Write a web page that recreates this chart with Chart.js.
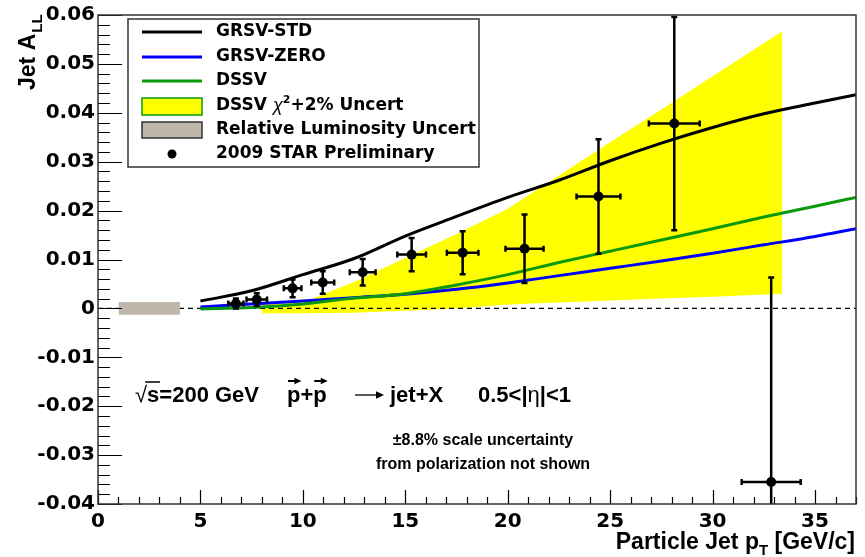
<!DOCTYPE html>
<html>
<head>
<meta charset="utf-8">
<script src="https://cdn.jsdelivr.net/npm/chart.js@4"></script>
<style>
  html, body { margin: 0; padding: 0; background: #fff; }
  #chartAll { display: block; }
</style>
</head>
<body>
<canvas id="chartAll" width="865" height="557"></canvas>
<script>
/* ------------------------------------------------------------
   Дані
------------------------------------------------------------ */

// теоретичні криві
const curveX   = [5, 7.5, 10, 12.5, 15, 17.5, 20, 22.5, 25, 27.5, 30, 32.5, 35, 37];
const grsvStd  = [0.0015, 0.0036, 0.0069, 0.0102, 0.0148, 0.0188, 0.0227, 0.0262, 0.0302, 0.0338, 0.0370, 0.0398, 0.0420, 0.0437];
const grsvZero = [0.0003, 0.0009, 0.0015, 0.0022, 0.0029, 0.0039, 0.0052, 0.0067, 0.0082, 0.0097, 0.0113, 0.0130, 0.0147, 0.0163];
const dssv     = [-0.0001, 0.0002, 0.0009, 0.0021, 0.0030, 0.0048, 0.0069, 0.0094, 0.0117, 0.0140, 0.0163, 0.0187, 0.0209, 0.0227];

// жовта смуга DSSV chi2 + 2%
const bandX  = [8, 10, 12.5, 15, 17.5, 20, 22.5, 25, 27.5, 30, 33.4];
const bandLo = [-0.0010, -0.0010, -0.0009, -0.0005, 0.0000, 0.0008, 0.0012, 0.0016, 0.0020, 0.0024, 0.0030];
const bandHi = [0.0008, 0.0012, 0.0054, 0.0103, 0.0152, 0.0204, 0.0272, 0.0340, 0.0407, 0.0475, 0.0567];

// сірий прямокутник (Relative Luminosity)
const lumX  = [1, 4];
const lumLo = [-0.0013, -0.0013];
const lumHi = [0.0013, 0.0013];

// пунктир на нулі
const zeroX = [0, 37];
const zeroY = [0, 0];

// точки 2009 STAR Preliminary
const ptX    = [6.73, 7.75, 9.5, 10.97, 12.92, 15.31, 17.8, 20.82, 24.43, 28.13, 32.86];
const ptY    = [0.0010, 0.0018, 0.0041, 0.0053, 0.0074, 0.0110, 0.0114, 0.0122, 0.0229, 0.0378, -0.0355];
const ptXErr = [0.37, 0.5, 0.43, 0.56, 0.63, 0.7, 0.77, 0.93, 1.07, 1.24, 1.44];
const ptYErr = [0.0010, 0.0013, 0.0018, 0.0023, 0.0027, 0.0034, 0.0044, 0.0070, 0.0117, 0.0218, 0.0418];

// осі
const xMin = 0, xMax = 37, xStep = 1, xMajor = 5;
const yMin = -0.04, yMax = 0.06, yStep = 0.002;

const legendLabels = ["GRSV-STD", "GRSV-ZERO", "DSSV", "DSSV χ²+2% Uncert", "Relative Luminosity Uncert", "2009 STAR Preliminary"];

const SANS = '"Liberation Sans", Arial, sans-serif';
const DEJA = '"DejaVu Sans", sans-serif';

const C_BLACK = "#000000";
const C_BLUE  = "#0000ff";
const C_GREEN = "#0b990b";
const C_YEL   = "#ffff00";
const C_LUM   = "#bfb6ab";

const xy = (xs, ys) => xs.map((x, i) => ({ x: x, y: ys[i] }));

/* ------------------------------------------------------------
   Плагін: похибки точок
------------------------------------------------------------ */
const errorBars = {
    id: "errorBars",
    beforeDatasetDraw(chart, args) {
        if (args.index !== 0) return;
        const { ctx, chartArea: a, scales: { x, y } } = chart;
        const cap = 3;
        ctx.save();
        ctx.strokeStyle = "#000";
        ctx.lineWidth = 2.5;
        ptX.forEach((vx, i) => {
            const px = x.getPixelForValue(vx);
            const py = y.getPixelForValue(ptY[i]);
            const x1 = x.getPixelForValue(vx - ptXErr[i]);
            const x2 = x.getPixelForValue(vx + ptXErr[i]);
            let yTop = y.getPixelForValue(ptY[i] + ptYErr[i]);
            let yBot = y.getPixelForValue(ptY[i] - ptYErr[i]);
            const topClip = yTop < a.top, botClip = yBot > a.bottom;
            yTop = Math.max(yTop, a.top);
            yBot = Math.min(yBot, a.bottom);
            ctx.beginPath();
            ctx.moveTo(x1, py); ctx.lineTo(x2, py);
            ctx.moveTo(px, yTop); ctx.lineTo(px, yBot);
            ctx.moveTo(x1, py - cap); ctx.lineTo(x1, py + cap);
            ctx.moveTo(x2, py - cap); ctx.lineTo(x2, py + cap);
            if (!topClip) { ctx.moveTo(px - cap, yTop); ctx.lineTo(px + cap, yTop); }
            if (!botClip) { ctx.moveTo(px - cap, yBot); ctx.lineTo(px + cap, yBot); }
            ctx.stroke();
        });
        ctx.restore();
    }
};

/* ------------------------------------------------------------
   Плагін: рамка, тики всередину (як у ROOT), підписи, легенда
------------------------------------------------------------ */
function drawRuns(ctx, x, y, runs) {
    runs.forEach(r => {
        ctx.font = r.font;
        const w = ctx.measureText(r.text).width;
        ctx.fillText(r.text, x, y + (r.dy || 0));
        if (r.deco) r.deco(ctx, x, y, w);
        x += w + (r.gap || 0);
    });
    return x;
}

// стрілка: від x1 до x2 на висоті y
function arrowLine(ctx, x1, x2, y, lw, head) {
    ctx.save();
    ctx.lineWidth = lw;
    ctx.beginPath();
    ctx.moveTo(x1, y); ctx.lineTo(x2 - head, y);
    ctx.stroke();
    ctx.beginPath();
    ctx.moveTo(x2, y);
    ctx.lineTo(x2 - head - 1, y - head * 0.55);
    ctx.lineTo(x2 - head - 1, y + head * 0.55);
    ctx.closePath();
    ctx.fill();
    ctx.restore();
}

function arrowOver(ctx, x, y, w) {
    arrowLine(ctx, x + 1, x + w + 1, y - 21, 2, 6);
}

const frameAndText = {
    id: "frameAndText",
    afterDraw(chart) {
        const { ctx, chartArea: a, scales: { x, y } } = chart;
        ctx.save();

        // тики
        ctx.strokeStyle = "#000";
        ctx.lineWidth = 1.2;
        ctx.beginPath();
        x.ticks.forEach(t => {
            const px = Math.round(x.getPixelForValue(t.value)) + 0.5;
            const len = t.label ? 14 : 7;
            ctx.moveTo(px, a.bottom); ctx.lineTo(px, a.bottom - len);
        });
        y.ticks.forEach(t => {
            const py = Math.round(y.getPixelForValue(t.value)) + 0.5;
            const len = t.label ? 24 : 12;
            ctx.moveTo(a.left, py); ctx.lineTo(a.left + len, py);
        });
        ctx.stroke();

        // рамка
        ctx.strokeStyle = "#333";
        ctx.lineWidth = 1.5;
        ctx.strokeRect(a.left, a.top, a.right - a.left, a.bottom - a.top);

        ctx.fillStyle = "#000";
        ctx.strokeStyle = "#000";
        ctx.textAlign = "left";
        ctx.textBaseline = "alphabetic";

        // назва осі Y: Jet A_LL
        ctx.save();
        ctx.translate(35, 90);
        ctx.rotate(-Math.PI / 2);
        drawRuns(ctx, 0, 0, [
            { text: "Jet A", font: "bold 23px " + SANS, gap: 1 },
            { text: "LL", font: "bold 15px " + SANS, dy: 7 }
        ]);
        ctx.restore();

        // назва осі X: Particle Jet p_T [GeV/c]
        ctx.font = "bold 23px " + SANS;
        const wA = ctx.measureText("Particle Jet p").width;
        const wC = ctx.measureText(" [GeV/c]").width;
        ctx.font = "bold 15px " + SANS;
        const wB = ctx.measureText("T").width;
        drawRuns(ctx, 855 - wA - wB - wC, 549, [
            { text: "Particle Jet p", font: "bold 23px " + SANS },
            { text: "T", font: "bold 15px " + SANS, dy: 6 },
            { text: " [GeV/c]", font: "bold 23px " + SANS }
        ]);

        // анотація
        const F = "bold 22px " + SANS;
        drawRuns(ctx, 135, 402, [
            { text: "√", font: "22px " + SANS },
            { text: "s=200 GeV", font: F, deco: (c, x0, y0) => {
                c.save(); c.lineWidth = 1.5; c.beginPath();
                c.moveTo(x0 - 2, y0 - 20); c.lineTo(x0 + 13, y0 - 20); c.stroke(); c.restore();
            } }
        ]);
        drawRuns(ctx, 287, 402, [
            { text: "p", font: F, deco: arrowOver },
            { text: "+", font: F },
            { text: "p", font: F, deco: arrowOver }
        ]);
        arrowLine(ctx, 355, 384, 395, 1.3, 7);
        drawRuns(ctx, 390, 402, [{ text: "jet+X", font: F }]);
        drawRuns(ctx, 478, 402, [
            { text: "0.5<|", font: F },
            { text: "η", font: "22px " + SANS },
            { text: "|<1", font: F }
        ]);

        ctx.textAlign = "center";
        ctx.font = "bold 16px " + SANS;
        ctx.fillText("±8.8% scale uncertainty", 483, 445);
        ctx.fillText("from polarization not shown", 483, 469);

        // легенда
        const L = { x: 128, y: 19, w: 351, h: 148 };
        ctx.fillStyle = "#fff";
        ctx.fillRect(L.x, L.y, L.w, L.h);
        ctx.strokeStyle = "#333";
        ctx.lineWidth = 1.5;
        ctx.strokeRect(L.x, L.y, L.w, L.h);

        const rows = [32, 57, 81, 106, 130, 154];
        const sx1 = 142, sx2 = 202, tx = 216;
        [C_BLACK, C_BLUE, C_GREEN].forEach((c, i) => {
            ctx.strokeStyle = c;
            ctx.lineWidth = 3;
            ctx.beginPath();
            ctx.moveTo(sx1, rows[i]); ctx.lineTo(sx2, rows[i]);
            ctx.stroke();
        });
        ctx.fillStyle = C_YEL;
        ctx.fillRect(sx1, rows[3] - 8, sx2 - sx1, 17);
        ctx.strokeStyle = C_GREEN;
        ctx.lineWidth = 1.5;
        ctx.strokeRect(sx1, rows[3] - 8, sx2 - sx1, 17);
        ctx.fillStyle = C_LUM;
        ctx.fillRect(sx1, rows[4] - 8, sx2 - sx1, 16);
        ctx.strokeStyle = "#333";
        ctx.strokeRect(sx1, rows[4] - 8, sx2 - sx1, 16);
        ctx.fillStyle = "#000";
        ctx.beginPath();
        ctx.arc((sx1 + sx2) / 2, rows[5], 4.5, 0, Math.PI * 2);
        ctx.fill();

        const LF = "bold 17px " + DEJA;
        ctx.textAlign = "left";
        ctx.textBaseline = "middle";
        legendLabels.forEach((t, i) => {
            if (i === 3) {
                drawRuns(ctx, tx, rows[i], [
                    { text: "DSSV ", font: LF },
                    { text: "χ", font: "italic 18px " + SANS },
                    { text: "2", font: "bold 11px " + DEJA, dy: -6 },
                    { text: "+2% Uncert", font: LF }
                ]);
            } else {
                ctx.font = LF;
                ctx.fillText(t, tx, rows[i]);
            }
        });

        ctx.restore();
    }
};

/* ------------------------------------------------------------
   Графік
------------------------------------------------------------ */
const tickFont = { family: DEJA, size: 20, weight: "bold" };

new Chart(document.getElementById("chartAll"), {
    type: "line",
    data: {
        datasets: [
            {   // 0 точки
                label: legendLabels[5],
                data: xy(ptX, ptY),
                showLine: false,
                pointRadius: 5,
                pointBackgroundColor: "#000",
                pointBorderWidth: 0
            },
            {   // 1
                label: legendLabels[0],
                data: xy(curveX, grsvStd),
                borderColor: C_BLACK, borderWidth: 3, pointRadius: 0,
                cubicInterpolationMode: "monotone", fill: false
            },
            {   // 2
                label: legendLabels[2],
                data: xy(curveX, dssv),
                borderColor: C_GREEN, borderWidth: 3, pointRadius: 0,
                cubicInterpolationMode: "monotone", fill: false
            },
            {   // 3
                label: legendLabels[1],
                data: xy(curveX, grsvZero),
                borderColor: C_BLUE, borderWidth: 3, pointRadius: 0,
                cubicInterpolationMode: "monotone", fill: false
            },
            {   // 4 lum верх
                label: legendLabels[4],
                data: xy(lumX, lumHi),
                borderColor: "rgba(0,0,0,0)", borderWidth: 0, pointRadius: 0,
                backgroundColor: C_LUM, fill: "+1"
            },
            {   // 5 lum низ
                label: "lumLo",
                data: xy(lumX, lumLo),
                borderColor: "rgba(0,0,0,0)", borderWidth: 0, pointRadius: 0, fill: false
            },
            {   // 6 пунктир
                label: "zero",
                data: xy(zeroX, zeroY),
                borderColor: "#000", borderWidth: 1.2, borderDash: [5, 4],
                pointRadius: 0, fill: false
            },
            {   // 7 смуга верх
                label: legendLabels[3],
                data: xy(bandX, bandHi),
                borderColor: "rgba(0,0,0,0)", borderWidth: 0, pointRadius: 0,
                backgroundColor: C_YEL, fill: "+1"
            },
            {   // 8 смуга низ
                label: "bandLo",
                data: xy(bandX, bandLo),
                borderColor: "rgba(0,0,0,0)", borderWidth: 0, pointRadius: 0, fill: false
            }
        ]
    },
    options: {
        responsive: false,
        animation: false,
        layout: { padding: { top: 13, right: 9, left: 0, bottom: 0 } },
        plugins: {
            legend: { display: false },
            tooltip: { enabled: false }
        },
        scales: {
            x: {
                type: "linear",
                min: xMin, max: xMax,
                afterFit: s => { s.height = 53; },
                grid: { display: false, drawTicks: false },
                border: { display: false },
                ticks: {
                    stepSize: xStep,
                    autoSkip: false,
                    maxRotation: 0,
                    padding: 6,
                    color: "#000",
                    font: tickFont,
                    callback: v => (Math.round(v) % xMajor === 0 ? String(Math.round(v)) : "")
                }
            },
            y: {
                type: "linear",
                min: yMin, max: yMax,
                afterFit: s => { s.width = 98; },
                grid: { display: false, drawTicks: false },
                border: { display: false },
                ticks: {
                    stepSize: yStep,
                    autoSkip: false,
                    padding: 3,
                    color: "#000",
                    font: tickFont,
                    callback: v => {
                        const k = Math.round(v * 1000);
                        if (k % 10 !== 0) return "";
                        return k === 0 ? "0" : (k / 1000).toFixed(2);
                    }
                }
            }
        }
    },
    plugins: [errorBars, frameAndText]
});
</script>
</body>
</html>
